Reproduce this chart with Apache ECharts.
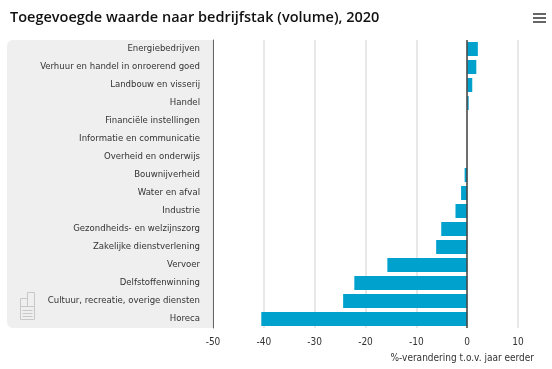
<!DOCTYPE html>
<html><head><meta charset="utf-8">
<script src="https://cdn.jsdelivr.net/npm/echarts@6/dist/echarts.min.js"></script>
<style>html,body{margin:0;padding:0;background:#fff;}#c{width:552px;height:369px;}</style>
</head><body><div id="c"></div>
<script>
const categories = ["Energiebedrijven","Verhuur en handel in onroerend goed","Landbouw en visserij","Handel","Financiële instellingen","Informatie en communicatie","Overheid en onderwijs","Bouwnijverheid","Water en afval","Industrie","Gezondheids- en welzijnszorg","Zakelijke dienstverlening","Vervoer","Delfstoffenwinning","Cultuur, recreatie, overige diensten","Horeca"];
const values = [2.1, 1.8, 1.0, 0.3, 0.0, 0.0, 0.0, -0.5, -1.2, -2.3, -5.1, -6.1, -15.7, -22.2, -24.4, -40.5];
const xTicks = {min: -50, max: 10, interval: 10};
const titleText = "Toegevoegde waarde naar bedrijfstak (volume), 2020";
const axisTitle = "%-verandering t.o.v. jaar eerder";

const chart = echarts.init(document.getElementById('c'), null, {renderer: 'canvas'});
const labelFont = "'DejaVu Sans Condensed', 'Open Sans', sans-serif";
const gray = '#c8c8c8';
chart.setOption({
  animation: false,
  title: {text: titleText, left: 5, top: 5, textStyle: {fontFamily: "'Open Sans', sans-serif", fontSize: 14.5, fontWeight: 600, color: '#111'}},
  graphic: [
    {type: 'rect', z: -10, shape: {x: 7, y: 40, width: 206, height: 288, r: [6, 0, 0, 6]}, style: {fill: '#efefef'}},
    {type: 'rect', shape: {x: 533, y: 13, width: 13, height: 2}, style: {fill: '#666'}},
    {type: 'rect', shape: {x: 533, y: 17, width: 13, height: 2}, style: {fill: '#666'}},
    {type: 'rect', shape: {x: 533, y: 21, width: 13, height: 2}, style: {fill: '#666'}},
    {type: 'group', left: 18, top: 290, children: [
      {type: 'rect', shape: {x: 0, y: 6, width: 7, height: 8}, style: {fill: 'none', stroke: gray, lineWidth: 1}},
      {type: 'rect', shape: {x: 7, y: 0, width: 7, height: 14}, style: {fill: 'none', stroke: gray, lineWidth: 1}},
      {type: 'rect', shape: {x: 0, y: 14, width: 14, height: 13}, style: {fill: 'none', stroke: gray, lineWidth: 1}},
      {type: 'line', shape: {x1: 2, y1: 18, x2: 12, y2: 18}, style: {stroke: gray, lineWidth: 1}},
      {type: 'line', shape: {x1: 2, y1: 21, x2: 12, y2: 21}, style: {stroke: gray, lineWidth: 1}},
      {type: 'line', shape: {x1: 2, y1: 24, x2: 12, y2: 24}, style: {stroke: gray, lineWidth: 1}}
    ]}
  ],
  grid: {left: 213, right: 34, top: 40, bottom: 41, containLabel: false},
  xAxis: {
    type: 'value', min: xTicks.min, max: xTicks.max, interval: xTicks.interval,
    name: axisTitle, nameLocation: 'end', nameGap: 0,
    nameTextStyle: {fontFamily: labelFont, fontSize: 10, color: '#333', align: 'right', verticalAlign: 'top', padding: [25, -16, 0, 0]},
    axisLine: {show: false}, axisTick: {show: false},
    axisLabel: {fontFamily: labelFont, fontSize: 10, color: '#333', margin: 9},
    splitLine: {lineStyle: {color: '#e8e8e8', width: 2}}
  },
  yAxis: {
    type: 'category', data: categories, inverse: true,
    axisLine: {onZero: false, lineStyle: {color: '#666', width: 1}},
    axisTick: {show: false},
    axisLabel: {fontFamily: labelFont, fontSize: 9.5, color: '#333', margin: 13}
  },
  series: [{
    type: 'bar', data: values, barWidth: 14,
    itemStyle: {color: '#00a1cd'},
    markLine: {symbol: 'none', silent: true, label: {show: false},
      lineStyle: {color: '#444', type: 'solid', width: 1.5}, data: [{xAxis: 0}]}
  }]
});
</script></body></html>
